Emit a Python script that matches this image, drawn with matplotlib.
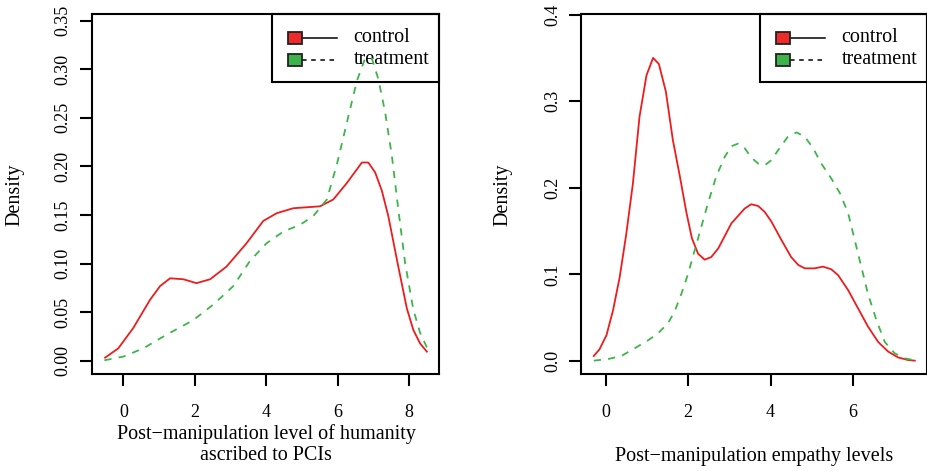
import matplotlib
matplotlib.use("Agg")
import matplotlib.pyplot as plt
from matplotlib.patches import Rectangle
from matplotlib.lines import Line2D

plt.rcParams['font.family'] = ['Liberation Serif', 'DejaVu Serif']

# ---------------- data ----------------
hum_ctrl_x = [-0.51, -0.14, 0.28, 0.75, 1.03, 1.31, 1.68, 2.05, 2.43, 2.89, 3.45, 3.92, 4.30,
              4.76, 5.51, 5.88, 6.26, 6.68, 6.86, 7.05, 7.24, 7.42, 7.70, 7.94, 8.12, 8.31, 8.50]
hum_ctrl_y = [0.0034, 0.013, 0.034, 0.063, 0.077, 0.085, 0.084, 0.080, 0.084, 0.097, 0.121, 0.144, 0.152,
              0.157, 0.159, 0.166, 0.183, 0.204, 0.204, 0.194, 0.175, 0.149, 0.097, 0.054, 0.032, 0.018, 0.0096]

hum_trt_x = [-0.53, 0.0, 0.56, 1.21, 1.96, 2.52, 3.08, 3.55, 4.01, 4.48, 4.95, 5.32, 5.70,
             5.98, 6.26, 6.54, 6.77, 6.96, 7.14, 7.33, 7.52, 7.70, 7.89, 8.12, 8.31, 8.50]
hum_trt_y = [0.0007, 0.0045, 0.013, 0.027, 0.042, 0.058, 0.077, 0.103, 0.121, 0.133, 0.140, 0.149, 0.166,
             0.202, 0.245, 0.288, 0.311, 0.311, 0.290, 0.256, 0.211, 0.156, 0.101, 0.053, 0.029, 0.014]

emp_ctrl_x = [-0.29, -0.15, 0.02, 0.18, 0.34, 0.50, 0.66, 0.82, 0.99, 1.15, 1.29, 1.46, 1.63, 1.80,
              1.96, 2.09, 2.24, 2.40, 2.56, 2.73, 3.05, 3.37, 3.53, 3.70, 3.86, 4.02, 4.26, 4.50,
              4.67, 4.83, 5.07, 5.27, 5.47, 5.64, 5.88, 6.12, 6.36, 6.61, 6.85, 7.09, 7.33, 7.50]
emp_ctrl_y = [0.0058, 0.0135, 0.030, 0.059, 0.097, 0.147, 0.205, 0.282, 0.330, 0.350, 0.343, 0.311,
              0.255, 0.213, 0.171, 0.142, 0.124, 0.117, 0.120, 0.130, 0.159, 0.176, 0.181, 0.179,
              0.172, 0.161, 0.140, 0.120, 0.111, 0.107, 0.107, 0.109, 0.106, 0.099, 0.082, 0.061,
              0.040, 0.022, 0.011, 0.0042, 0.0012, 0.0004]

emp_trt_x = [-0.29, 0.06, 0.38, 0.70, 1.03, 1.27, 1.51, 1.67, 1.84, 2.00, 2.16, 2.32, 2.48, 2.68,
             2.89, 3.05, 3.21, 3.37, 3.53, 3.70, 3.86, 4.02, 4.22, 4.42, 4.63, 4.83, 5.03, 5.23,
             5.47, 5.68, 5.88, 6.04, 6.20, 6.36, 6.57, 6.77, 7.01, 7.26, 7.50]
emp_trt_y = [0.0004, 0.0023, 0.0058, 0.0146, 0.024, 0.032, 0.0435, 0.057, 0.078, 0.101, 0.128, 0.155,
             0.182, 0.213, 0.236, 0.248, 0.251, 0.246, 0.235, 0.228, 0.226, 0.232, 0.246, 0.259,
             0.264, 0.259, 0.246, 0.228, 0.211, 0.194, 0.171, 0.140, 0.109, 0.078, 0.047, 0.022,
             0.0089, 0.0031, 0.0008]

group_labels = ["control", "treatment"]
hum_xticks = [0, 2, 4, 6, 8]
hum_yticks = [0.00, 0.05, 0.10, 0.15, 0.20, 0.25, 0.30, 0.35]
hum_yticklabels = ["0.00", "0.05", "0.10", "0.15", "0.20", "0.25", "0.30", "0.35"]
emp_xticks = [0, 2, 4, 6]
emp_yticks = [0.0, 0.1, 0.2, 0.3, 0.4]
emp_yticklabels = ["0.0", "0.1", "0.2", "0.3", "0.4"]
hum_xlabel = "Post\u2212manipulation level of humanity\nascribed to PCIs"
emp_xlabel = "Post\u2212manipulation empathy levels"

# ---------------- styling ----------------
RED_LINE = '#EE1C1C'
GREEN_LINE = '#3DB54A'
RED_FILL = '#EE2A2A'
GREEN_FILL = '#3CB44A'
FS_TICK = 13
FS = 14.5

W, H = 928, 471
fig = plt.figure(figsize=(W / 100, H / 100), dpi=100)


def make_axes(px_left, px_right, px_top, px_bottom):
    return fig.add_axes([px_left / W, 1 - px_bottom / H,
                         (px_right - px_left) / W, (px_bottom - px_top) / H])


def style(ax, xticks, yticks, yticklabels):
    for s in ax.spines.values():
        s.set_linewidth(1.5)
    ax.set_xticks(xticks)
    ax.set_xticklabels([str(t) for t in xticks], fontsize=FS_TICK)
    ax.set_yticks(yticks)
    ax.set_yticklabels(yticklabels, fontsize=FS_TICK, rotation=90, va='center')
    ax.tick_params(axis='both', length=8.5, width=1.5, direction='out')
    ax.tick_params(axis='x', pad=13)
    ax.tick_params(axis='y', pad=6)


def legend(ax, px_box_left):
    # drawn in pixel geometry relative to the axes
    bb = ax.get_position()
    ax_l, ax_r = bb.x0 * W, bb.x1 * W
    ax_t = (1 - bb.y1) * H
    ax_b = (1 - bb.y0) * H

    def fx(px):
        return (px - ax_l) / (ax_r - ax_l)

    def fy(py):
        return (ax_b - py) / (ax_b - ax_t)

    box = Rectangle((fx(px_box_left), fy(82)), fx(ax_r) - fx(px_box_left), fy(ax_t) - fy(82),
                    transform=ax.transAxes, facecolor='none', edgecolor='black',
                    linewidth=1.5, zorder=1, clip_on=False)
    ax.add_patch(box)
    sq_l = px_box_left + 16.5
    rows = [37.5, 60.0]
    fills = [RED_FILL, GREEN_FILL]
    styles = ['-', (0, (3, 3))]
    for r, fc, ls, lab in zip(rows, fills, styles, group_labels):
        ax.add_line(Line2D([fx(sq_l + 14), fx(sq_l + 49)], [fy(r), fy(r)], color='black',
                           linewidth=1.1, linestyle=ls, transform=ax.transAxes, zorder=1,
                           clip_on=False))
        ax.add_patch(Rectangle((fx(sq_l), fy(r + 6)), fx(sq_l + 14) - fx(sq_l), fy(r - 6) - fy(r + 6),
                               transform=ax.transAxes, facecolor=fc, edgecolor='#222222',
                               linewidth=1.3, zorder=1, clip_on=False))
        ax.text(fx(px_box_left + 82), fy(r), lab, transform=ax.transAxes, fontsize=FS,
                ha='left', va='center', zorder=1)


# ---------- left panel ----------
ax1 = make_axes(92, 439, 14, 374)
ax1.plot(hum_ctrl_x, hum_ctrl_y, color=RED_LINE, linewidth=1.3, zorder=3)
ax1.plot(hum_trt_x, hum_trt_y, color=GREEN_LINE, linewidth=1.3, linestyle=(0, (4, 4)), zorder=3)
ax1.set_xlim(-0.877, 8.84)
ax1.set_ylim(-0.0134, 0.3567)
style(ax1, hum_xticks, hum_yticks, hum_yticklabels)
fig.text(266 / W, 1 - 444.5 / H, hum_xlabel, ha='center', va='center', fontsize=FS,
         linespacing=1.1)
fig.text(15 / W, 1 - 195 / H, "Density", rotation=90, ha='center', va='center', fontsize=FS)
legend(ax1, 271.7)

# ---------- right panel ----------
ax2 = make_axes(581.3, 927, 14, 374)
ax2.plot(emp_ctrl_x, emp_ctrl_y, color=RED_LINE, linewidth=1.3, zorder=3)
ax2.plot(emp_trt_x, emp_trt_y, color=GREEN_LINE, linewidth=1.3, linestyle=(0, (4, 4)), zorder=3)
ax2.set_xlim(-0.592, 7.795)
ax2.set_ylim(-0.015, 0.4007)
style(ax2, emp_xticks, emp_yticks, emp_yticklabels)
fig.text(754 / W, 1 - 456 / H, emp_xlabel, ha='center', va='center', fontsize=FS)
fig.text(503 / W, 1 - 195 / H, "Density", rotation=90, ha='center', va='center', fontsize=FS)
legend(ax2, 759.7)

fig.savefig("out.png", dpi=100)
